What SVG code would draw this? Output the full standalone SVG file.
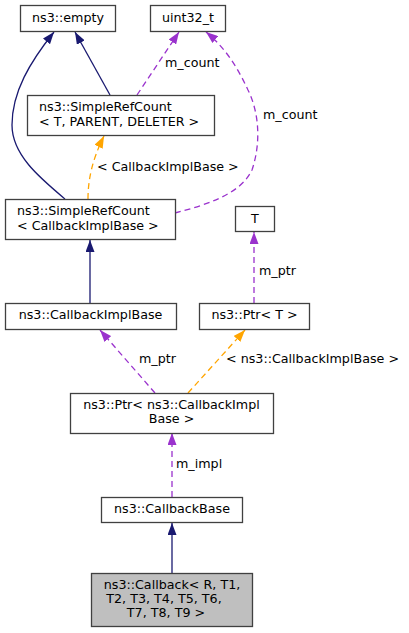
<svg xmlns="http://www.w3.org/2000/svg" width="409" height="633" viewBox="0 0 409 633">
<style>
text { font-family: "DejaVu Sans", sans-serif; font-size: 12.7px; fill: #000; }
.node rect { fill: #fff; stroke: #404040; stroke-width: 1.3; }
.node.main rect { fill: #bfbfbf; }
.m { text-anchor: middle; }
.inh { fill: none; stroke: #191970; stroke-width: 1.3; marker-end: url(#aBlue); }
.use { fill: none; stroke: #9a32cd; stroke-width: 1.3; stroke-dasharray: 6,4; marker-end: url(#aPurple); }
.tpl { fill: none; stroke: #ffa500; stroke-width: 1.3; stroke-dasharray: 6,4; marker-end: url(#aOrange); }
</style>
<defs>
<marker id="aBlue" viewBox="0 0 12 9" refX="12" refY="4.5" markerWidth="12" markerHeight="9" markerUnits="userSpaceOnUse" orient="auto"><path d="M0,0 L12,4.5 L0,9 z" fill="#191970"/></marker>
<marker id="aPurple" viewBox="0 0 12 9" refX="12" refY="4.5" markerWidth="12" markerHeight="9" markerUnits="userSpaceOnUse" orient="auto"><path d="M0,0 L12,4.5 L0,9 z" fill="#9a32cd"/></marker>
<marker id="aOrange" viewBox="0 0 12 9" refX="12" refY="4.5" markerWidth="12" markerHeight="9" markerUnits="userSpaceOnUse" orient="auto"><path d="M0,0 L12,4.5 L0,9 z" fill="#ffa500"/></marker>
</defs>
<g id="connectors">
<path class="inh" d="M110,95 L75,32"/>
<path class="inh" d="M65,199 C40,178 12,155 12,125 C12,92 30,62 54,32"/>
<path class="use" d="M137,95 L179,32"/>
<path class="use" d="M175,213 C205,205 240,195 252,170 C262,140 258,110 248,90 C235,62 222,45 206,32"/>
<path class="tpl" d="M88,199 C88,180 92,160 104,136"/>
<path class="inh" d="M90,303 L90,240"/>
<path class="use" d="M254,303 L254,232"/>
<path class="use" d="M155,393 L100,330"/>
<path class="tpl" d="M188,393 L245,330"/>
<path class="use" d="M172,497 L172,433"/>
<path class="inh" d="M172,573 L172,523"/>
<text x="165" y="67">m_count</text>
<text x="263" y="119">m_count</text>
<text x="97" y="171">&lt; CallbackImplBase &gt;</text>
<text x="259" y="275">m_ptr</text>
<text x="139" y="363">m_ptr</text>
<text x="226" y="363">&lt; ns3::CallbackImplBase &gt;</text>
<text x="176" y="468">m_impl</text>
</g>
<g id="empty" class="node"><rect x="20.5" y="5.5" width="95" height="26"/><text class="m" x="68" y="22">ns3::empty</text></g>
<g id="uint32" class="node"><rect x="150.5" y="5.5" width="75" height="26"/><text class="m" x="188" y="22">uint32_t</text></g>
<g id="srcTPD" class="node"><rect x="27.5" y="95.5" width="187" height="40"/><text x="39" y="111">ns3::SimpleRefCount</text><text x="39" y="126">&lt; T, PARENT, DELETER &gt;</text></g>
<g id="srcCB" class="node"><rect x="5.5" y="199.5" width="170" height="40"/><text x="17" y="215">ns3::SimpleRefCount</text><text x="17" y="230">&lt; CallbackImplBase &gt;</text></g>
<g id="T" class="node"><rect x="235.5" y="206.5" width="39" height="25"/><text class="m" x="255" y="223">T</text></g>
<g id="cbImplBase" class="node"><rect x="5.5" y="303.5" width="171" height="26"/><text class="m" x="90.5" y="319">ns3::CallbackImplBase</text></g>
<g id="ptrT" class="node"><rect x="199.5" y="303.5" width="110" height="26"/><text class="m" x="254.5" y="319">ns3::Ptr&lt; T &gt;</text></g>
<g id="ptrCB" class="node"><rect x="70.5" y="393.5" width="203" height="40"/><text class="m" x="171.5" y="409">ns3::Ptr&lt; ns3::CallbackImpl</text><text class="m" x="171.5" y="423">Base &gt;</text></g>
<g id="cbBase" class="node"><rect x="101.5" y="497.5" width="141" height="25"/><text class="m" x="172" y="513">ns3::CallbackBase</text></g>
<g id="callback" class="node main"><rect x="91.5" y="573.5" width="161" height="53"/><text class="m" x="172" y="589">ns3::Callback&lt; R, T1,</text><text class="m" x="164" y="603">T2, T3, T4, T5, T6,</text><text class="m" x="166" y="617">T7, T8, T9 &gt;</text></g>
</svg>
